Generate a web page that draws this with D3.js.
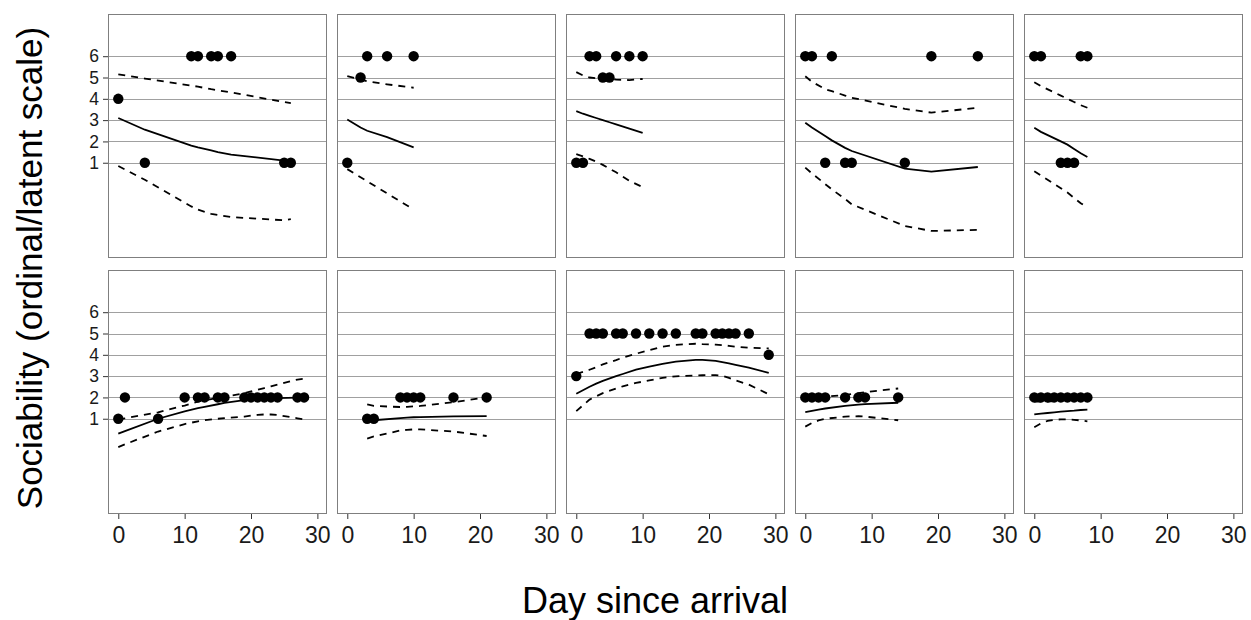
<!DOCTYPE html>
<html>
<head>
<meta charset="utf-8">
<script src="https://cdn.jsdelivr.net/npm/d3@7"></script>
<style>
  body { margin: 0; background: #fff; }
  svg { display: block; font-family: "Liberation Sans", Arial, sans-serif; }
</style>
</head>
<body>
<div id="chart"></div>
<script>
// DATA - one entry per panel, top row left to right, then bottom row
const days = [
  [0, 4, 11, 12, 14, 15, 17, 25, 26],
  [0, 2, 3, 6, 10],
  [0, 1, 2, 3, 4, 5, 6, 8, 10],
  [0, 1, 3, 4, 6, 7, 15, 19, 26],
  [0, 1, 4, 5, 6, 7, 8],
  [0, 1, 6, 10, 12, 13, 15, 16, 19, 20, 21, 22, 23, 24, 27, 28],
  [3, 4, 8, 9, 10, 11, 16, 21],
  [0, 2, 3, 4, 6, 7, 9, 11, 13, 15, 18, 19, 21, 22, 23, 24, 26, 29],
  [0, 1, 2, 3, 6, 8, 9, 14],
  [0, 1, 2, 3, 4, 5, 6, 7, 8]
];
const observed = [
  [4, 1, 6, 6, 6, 6, 6, 1, 1],
  [1, 5, 6, 6, 6],
  [1, 1, 6, 6, 5, 5, 6, 6, 6],
  [6, 6, 1, 6, 1, 1, 1, 6, 6],
  [6, 6, 1, 1, 1, 6, 6],
  [1, 2, 1, 2, 2, 2, 2, 2, 2, 2, 2, 2, 2, 2, 2, 2],
  [1, 1, 2, 2, 2, 2, 2, 2],
  [3, 5, 5, 5, 5, 5, 5, 5, 5, 5, 5, 5, 5, 5, 5, 5, 5, 4],
  [2, 2, 2, 2, 2, 2, 2, 2],
  [2, 2, 2, 2, 2, 2, 2, 2, 2]
];
const fitted = [
  [3.1, 2.55, 1.8, 1.72, 1.58, 1.5, 1.38, 1.1, 1.06],
  [3.03, 2.65, 2.5, 2.2, 1.72],
  [3.42, 3.3, 3.2, 3.1, 3.0, 2.9, 2.8, 2.6, 2.4],
  [2.88, 2.65, 2.25, 2.05, 1.7, 1.55, 0.72, 0.58, 0.8],
  [2.64, 2.45, 2.0, 1.85, 1.65, 1.45, 1.27],
  [0.3, 0.42, 1.0, 1.35, 1.5, 1.56, 1.68, 1.74, 1.87, 1.9, 1.92, 1.94, 1.96, 1.97, 1.99, 2.0],
  [0.88, 0.93, 1.03, 1.05, 1.07, 1.08, 1.11, 1.12],
  [2.17, 2.5, 2.65, 2.78, 3.0, 3.1, 3.3, 3.45, 3.58, 3.68, 3.76, 3.76, 3.72, 3.66, 3.6, 3.53, 3.4, 3.15],
  [1.31, 1.37, 1.43, 1.48, 1.6, 1.66, 1.69, 1.75],
  [1.2, 1.24, 1.27, 1.3, 1.33, 1.36, 1.38, 1.41, 1.43]
];
const upper = [
  [5.15, 4.95, 4.62, 4.57, 4.45, 4.4, 4.3, 3.85, 3.8],
  [5.06, 4.9, 4.82, 4.68, 4.52],
  [5.25, 5.1, 5.0, 4.97, 4.95, 4.93, 4.9, 4.88, 4.93],
  [5.06, 4.8, 4.45, 4.36, 4.15, 4.05, 3.53, 3.35, 3.58],
  [4.78, 4.6, 4.15, 4.0, 3.85, 3.7, 3.58],
  [0.97, 1.02, 1.3, 1.62, 1.8, 1.87, 1.98, 2.03, 2.2, 2.28, 2.36, 2.44, 2.52, 2.6, 2.84, 2.88],
  [1.67, 1.6, 1.55, 1.56, 1.58, 1.6, 1.78, 2.0],
  [3.1, 3.3, 3.42, 3.55, 3.75, 3.87, 4.05, 4.22, 4.38, 4.47, 4.52, 4.5, 4.48, 4.45, 4.42, 4.38, 4.33, 4.3],
  [1.95, 1.98, 2.0, 2.03, 2.12, 2.2, 2.25, 2.42],
  [1.8, 1.8, 1.81, 1.83, 1.85, 1.88, 1.9, 1.93, 1.96]
];
const lower = [
  [0.85, 0.2, -1.05, -1.2, -1.4, -1.45, -1.55, -1.7, -1.65],
  [0.7, 0.32, 0.13, -0.44, -1.19],
  [1.4, 1.3, 1.18, 1.05, 0.9, 0.72, 0.55, 0.15, -0.14],
  [0.77, 0.5, 0.0, -0.25, -0.7, -0.95, -1.97, -2.2, -2.15],
  [0.6, 0.4, -0.2, -0.4, -0.65, -0.9, -1.1],
  [-0.33, -0.2, 0.4, 0.75, 0.88, 0.93, 1.0, 1.03, 1.1, 1.15, 1.18, 1.2, 1.2, 1.18, 1.02, 0.97],
  [0.07, 0.17, 0.45, 0.48, 0.5, 0.5, 0.4, 0.19],
  [1.36, 1.9, 2.05, 2.2, 2.42, 2.52, 2.68, 2.8, 2.92, 2.99, 3.03, 3.04, 3.05, 3.02, 2.92, 2.8, 2.6, 2.15],
  [0.63, 0.8, 0.92, 1.0, 1.1, 1.12, 1.1, 0.93],
  [0.6, 0.78, 0.9, 0.95, 0.97, 0.97, 0.95, 0.92, 0.88]
];
const yTicks = [1, 2, 3, 4, 5, 6];
const xTicks = [0, 10, 20, 30];
const xTitle = 'Day since arrival';
const yTitle = 'Sociability (ordinal/latent scale)';

// SIZE
const width = 1251;
const height = 620;
const marginLeft = 108;
const marginTop = 14;
const panelW = 219;
const panelH = 244;
const gapX = 10;
const gapY = 12;
const nCols = 5;

const svg = d3.select('#chart').append('svg')
  .attr('width', width)
  .attr('height', height);

const x = d3.scaleLinear().domain([-1.55, 31.45]).range([0, panelW]);
const y = d3.scaleLinear().domain([-3.47, 7.98]).range([panelH, 0]);

const line = (vals, dd) => d3.line()
  .x((d, i) => x(dd[i]))
  .y(d => y(d))(vals);

days.forEach((dd, p) => {
  const col = p % nCols;
  const row = Math.floor(p / nCols);
  const g = svg.append('g')
    .attr('transform', `translate(${marginLeft + col * (panelW + gapX)}, ${marginTop + row * (panelH + gapY)})`);

  // background + grid
  g.append('rect')
    .attr('width', panelW).attr('height', panelH)
    .attr('fill', '#fff');

  g.selectAll('.grid').data(yTicks)
    .enter().append('line')
    .attr('class', 'grid')
    .attr('x1', 0).attr('x2', panelW)
    .attr('y1', d => Math.round(y(d)) + 0.5)
    .attr('y2', d => Math.round(y(d)) + 0.5)
    .attr('stroke', '#a0a0a0')
    .attr('stroke-width', 1);

  // fit + interval
  g.append('path').attr('d', line(fitted[p], dd))
    .attr('fill', 'none').attr('stroke', '#000').attr('stroke-width', 1.8);
  [upper[p], lower[p]].forEach(v => {
    g.append('path').attr('d', line(v, dd))
      .attr('fill', 'none').attr('stroke', '#000').attr('stroke-width', 1.8)
      .attr('stroke-dasharray', '7,6');
  });

  g.selectAll('circle').data(observed[p])
    .enter().append('circle')
    .attr('cx', (d, i) => x(dd[i]))
    .attr('cy', d => y(d))
    .attr('r', 5.2)
    .attr('fill', '#000');

  g.append('rect')
    .attr('x', 0.5).attr('y', 0.5)
    .attr('width', panelW - 1).attr('height', panelH - 1)
    .attr('fill', 'none').attr('stroke', '#7f7f7f').attr('stroke-width', 1);

  if (col === 0) {
    const ya = g.append('g')
      .call(d3.axisLeft(y).tickValues(yTicks).tickSize(5).tickPadding(4));
    ya.select('.domain').remove();
    ya.selectAll('line').attr('stroke', '#333');
    ya.selectAll('text').attr('font-size', 17.5).attr('fill', '#1a1a1a')
      .attr('font-family', '"Liberation Sans", Arial, sans-serif');
  }
  if (row === 1) {
    const xa = g.append('g')
      .attr('transform', `translate(0, ${panelH})`)
      .call(d3.axisBottom(x).tickValues(xTicks).tickSize(5).tickPadding(8));
    xa.select('.domain').remove();
    xa.selectAll('line').attr('stroke', '#333');
    xa.selectAll('text').attr('font-size', 23).attr('fill', '#1a1a1a')
      .attr('font-family', '"Liberation Sans", Arial, sans-serif');
  }
});

// AXIS TITLES
svg.append('text')
  .attr('x', 655).attr('y', 613)
  .attr('text-anchor', 'middle')
  .attr('font-size', 36)
  .attr('fill', '#000')
  .text(xTitle);

svg.append('text')
  .attr('transform', `translate(42, 268) rotate(-90)`)
  .attr('text-anchor', 'middle')
  .attr('font-size', 35)
  .attr('fill', '#000')
  .text(yTitle);
</script>
</body>
</html>
